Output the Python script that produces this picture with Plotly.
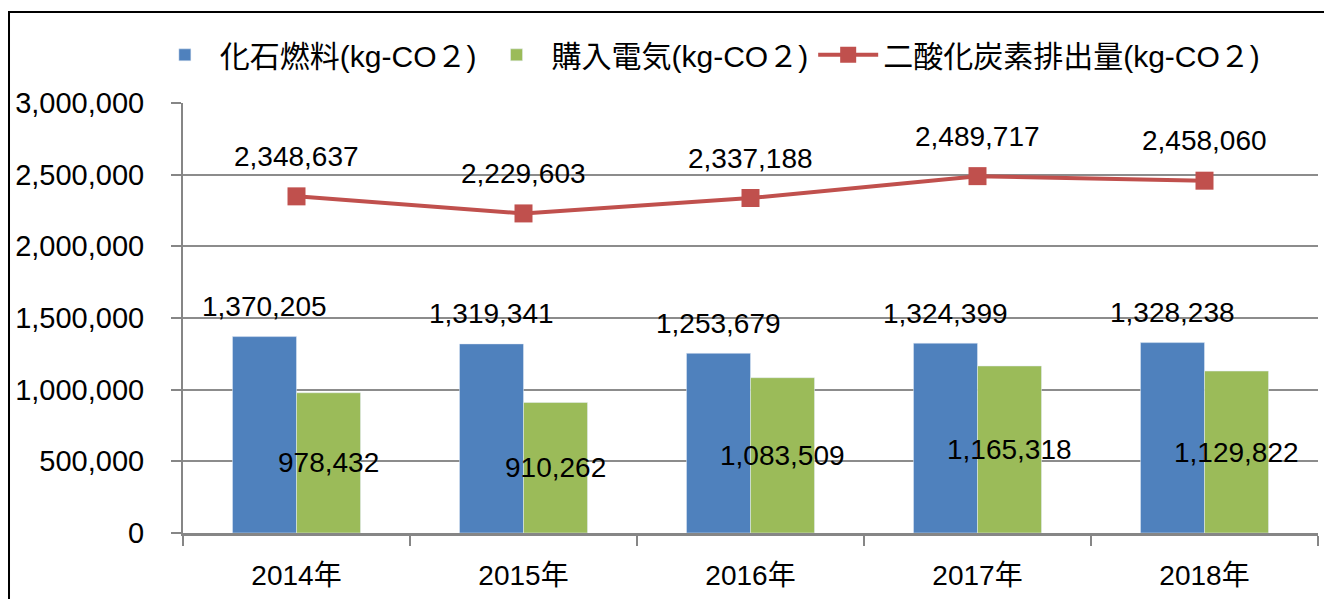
import plotly.graph_objects as go

categories = ["2014年", "2015年", "2016年", "2017年", "2018年"]
fossil = [1370205, 1319341, 1253679, 1324399, 1328238]
electric = [978432, 910262, 1083509, 1165318, 1129822]
total = [2348637, 2229603, 2337188, 2489717, 2458060]

names = ["化石燃料(kg-CO２)", "購入電気(kg-CO２)", "二酸化炭素排出量(kg-CO２)"]
colors = ["#4F81BD", "#9BBB59", "#C0504D"]

NUM_FONT = "Liberation Sans, Arial, Noto Sans CJK JP"
CJK_FONT = "Liberation Sans, Noto Sans CJK JP"

fig = go.Figure()
fig.add_trace(go.Bar(x=categories, y=fossil, name=names[0], marker_color=colors[0]))
fig.add_trace(go.Bar(x=categories, y=electric, name=names[1], marker_color=colors[1]))
fig.add_trace(go.Scatter(x=categories, y=total, name=names[2], mode="lines+markers",
                         line=dict(color=colors[2], width=4),
                         marker=dict(symbol="square", size=18, color=colors[2])))

ann = []
for c, v in zip(categories, fossil):
    ann.append(dict(x=c, y=v, text=f"{v:,}", showarrow=False, xshift=-32, yshift=30,
                    font=dict(size=28, color="black", family=NUM_FONT)))
for c, v in zip(categories, electric):
    ann.append(dict(x=c, y=v / 2, text=f"{v:,}", showarrow=False, xshift=32, yshift=0,
                    font=dict(size=28, color="black", family=NUM_FONT)))
for c, v in zip(categories, total):
    ann.append(dict(x=c, y=v, text=f"{v:,}", showarrow=False, xshift=0, yshift=40,
                    font=dict(size=28, color="black", family=NUM_FONT)))

fig.update_layout(
    width=1324, height=591,
    margin=dict(l=175, r=14, t=95, b=66, autoexpand=False),
    paper_bgcolor="white", plot_bgcolor="white",
    barmode="group", bargap=0.436, bargroupgap=0,
    showlegend=True,
    legend=dict(orientation="h", x=0.462, y=1.112, xanchor="center", yanchor="middle",
                font=dict(size=30, family=CJK_FONT, color="black"),
                itemwidth=60, tracegroupgap=0, bgcolor="rgba(0,0,0,0)"),
    annotations=ann,
    shapes=[dict(type="rect", xref="paper", yref="paper", x0=-0.1533, x1=1.0106,
                 y0=-0.3, y1=1.2116, line=dict(color="black", width=2),
                 fillcolor="rgba(0,0,0,0)", layer="above")],
)
fig.update_xaxes(automargin=False, showline=True, linecolor="#868686", linewidth=3,
                 ticks="outside", tickson="boundaries", ticklen=10, tickcolor="#868686", tickwidth=2,
                 tickfont=dict(size=28, family=CJK_FONT, color="black"),
                 ticklabelstandoff=15, showgrid=False)
fig.update_yaxes(automargin=False, range=[0, 3000000], dtick=500000, tickformat=",",
                 showline=True, linecolor="#868686", linewidth=2,
                 showgrid=True, gridcolor="#8c8c8c", gridwidth=2, zeroline=False,
                 ticks="outside", ticklen=10, tickcolor="#868686", tickwidth=2,
                 tickfont=dict(size=29, family=NUM_FONT, color="black"),
                 ticklabelstandoff=21)

fig.write_html("out.html")
